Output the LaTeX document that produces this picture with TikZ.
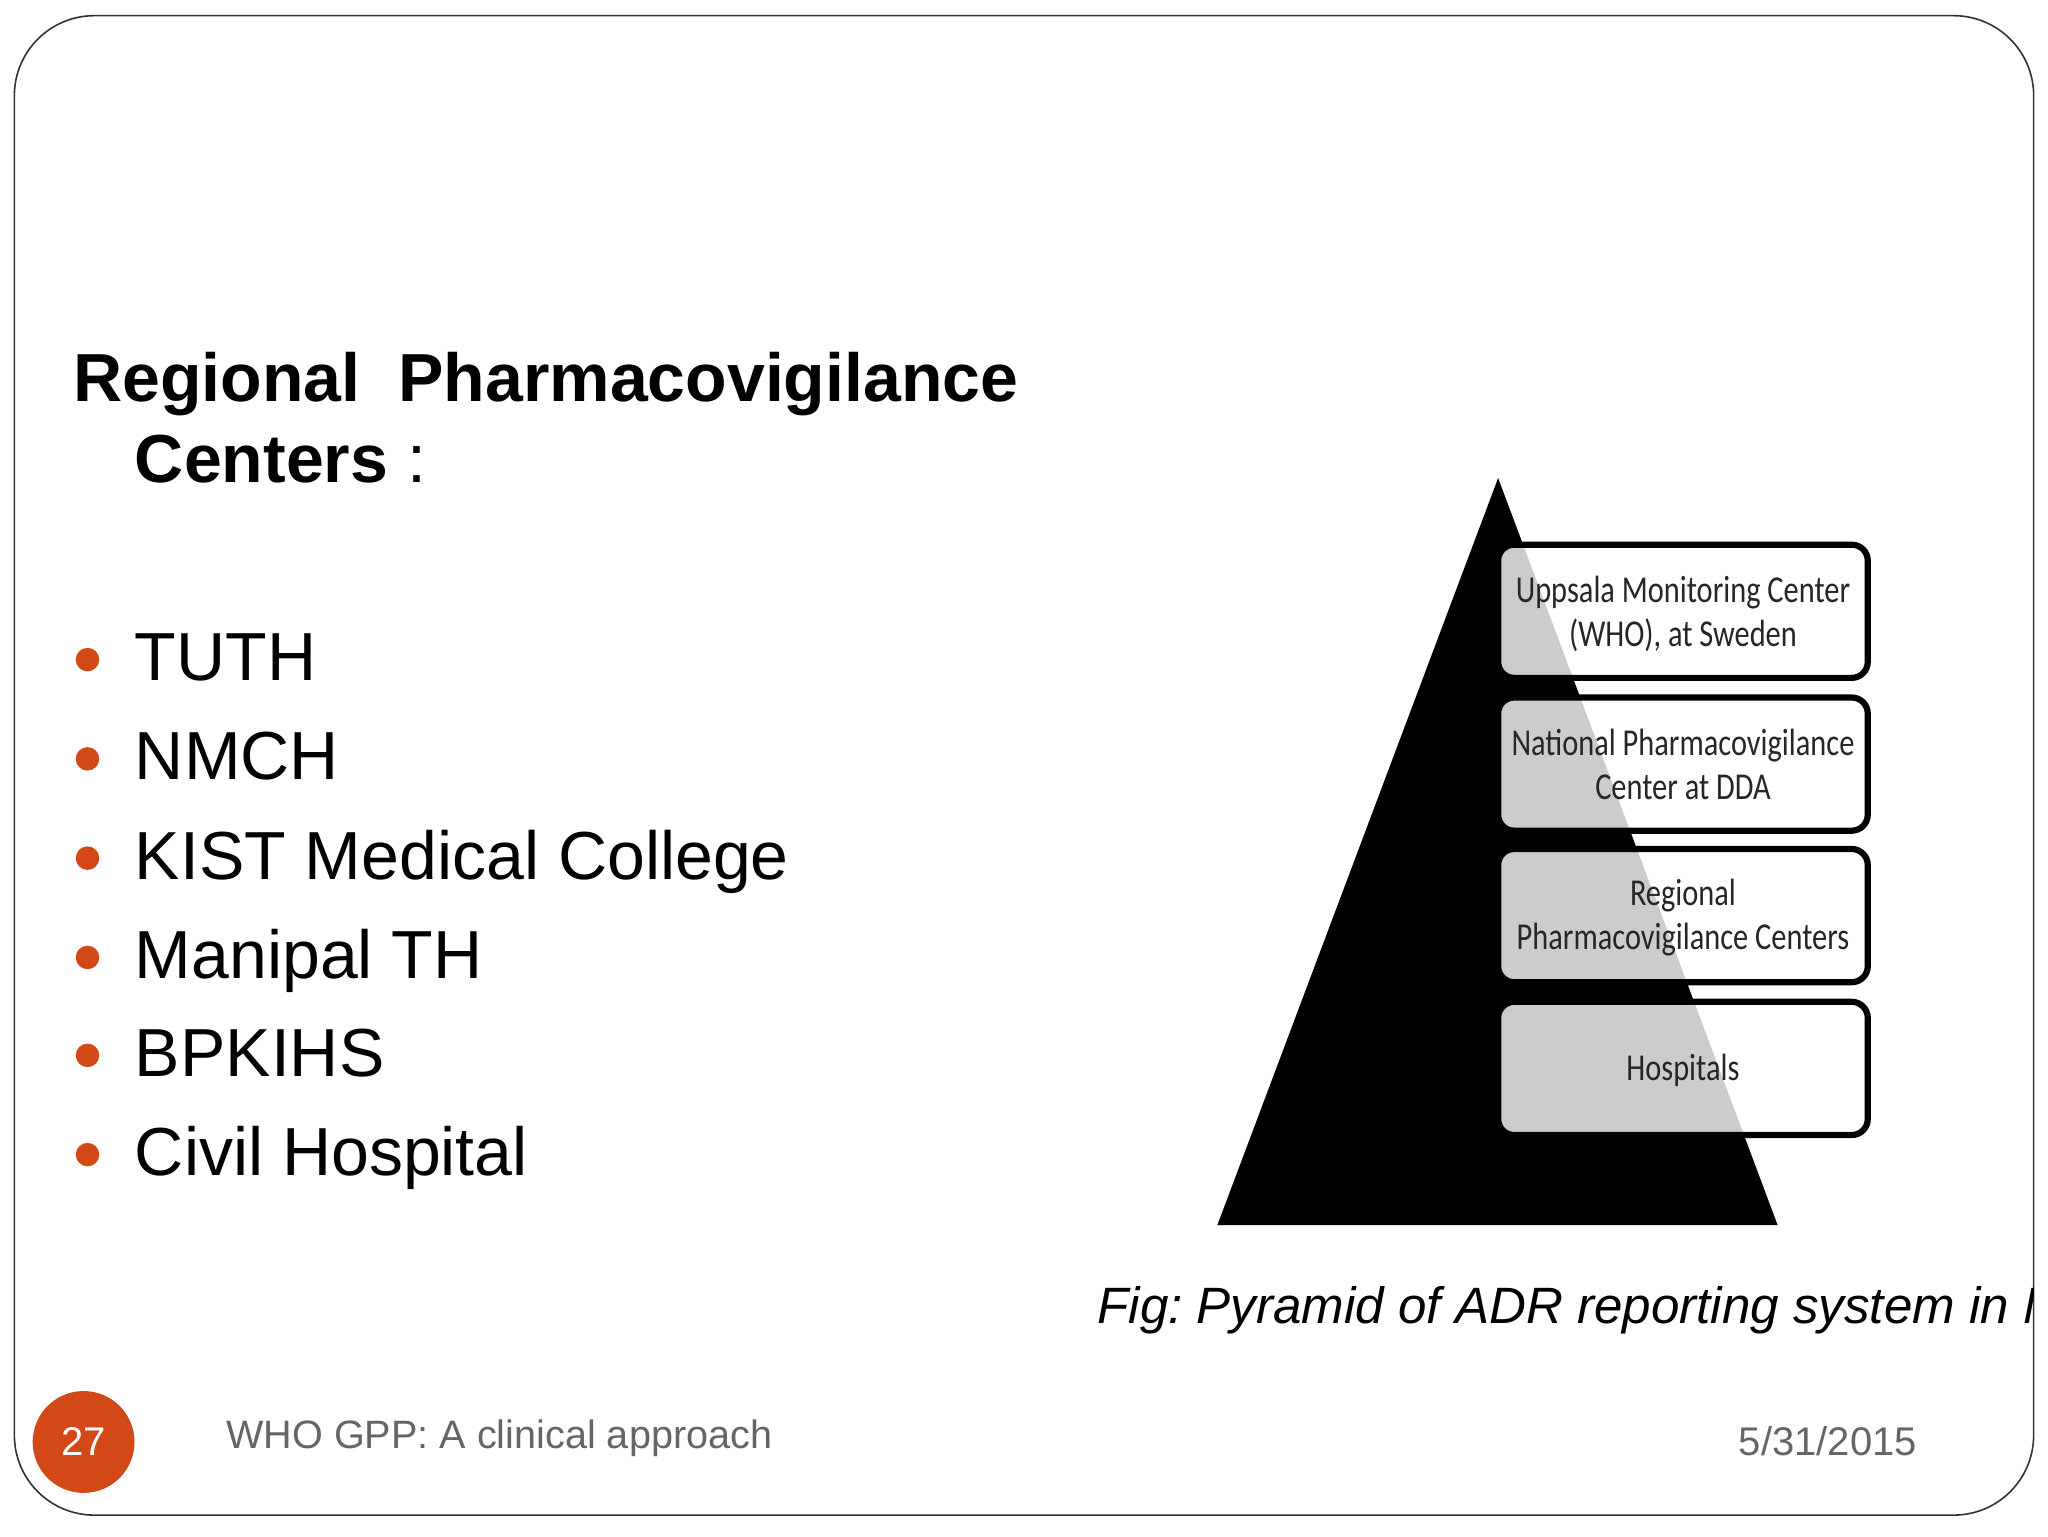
\documentclass[tikz,border=0pt]{standalone}
\usepackage{fontspec}
\setmainfont{Liberation Sans}
\newfontfamily\boxfont[FakeStretch=0.8]{Carlito}
\definecolor{slideorange}{HTML}{D34817}
\definecolor{footgray}{HTML}{696464}
\frenchspacing
\newcommand{\boxlift}{\rule{0pt}{15.4pt}}
\tikzset{
  listitem/.style={anchor=base west, inner sep=0pt, font=\fontsize{34}{34}\selectfont},
  headline/.style={anchor=base west, inner sep=0pt, font=\fontsize{34}{34}\selectfont\bfseries},
  foottext/.style={anchor=base west, inner sep=0pt, text=footgray, font=\fontsize{19.8}{20}\selectfont},
  levelbox/.style={draw=black, line width=3.1pt, rounded corners=8pt, fill=white, fill opacity=0.8, text opacity=1,
    minimum width=184.8pt, minimum height=66.6pt, inner sep=0pt, align=center, text=black!85,
    font=\boxfont\fontsize{19}{22}\selectfont},
}
\begin{document}
\begin{tikzpicture}[x=0.65306pt,y=-0.65306pt]
  \useasboundingbox (0,0) rectangle (1568,1176);
  \draw[black!80, line width=0.8pt, rounded corners=40pt] (11,12) rectangle (1557,1160); % slide frame

  \node[headline] (title1) at (56,307.5) {Regional\ \ Pharmacovigilance};
  \node[headline] (title2) at (103,369.5) {Centers \textmd{:}};

  \fill[slideorange] (67,505) circle[radius=9];
  \node[listitem] (tuth) at (103,521) {TUTH};
  \fill[slideorange] (67,581) circle[radius=9];
  \node[listitem] (nmch) at (103,597) {NMCH};
  \fill[slideorange] (67,657) circle[radius=9];
  \node[listitem] (kist) at (103,673) {KIST Medical College};
  \fill[slideorange] (67,733) circle[radius=9];
  \node[listitem] (manipal) at (103,749) {Manipal TH};
  \fill[slideorange] (67,808) circle[radius=9];
  \node[listitem] (bpkihs) at (103,824) {BPKIHS};
  \fill[slideorange] (67,884) circle[radius=9];
  \node[listitem] (civil) at (103,900) {Civil Hospital};

  \fill[black] (1147,366)--(1361,938)--(932,938)--cycle; % pyramid
  \node[levelbox] (uppsala) at (1288.5,468) {\boxlift Uppsala Monitoring Center\\(WHO), at Sweden};
  \node[levelbox] (national) at (1288.5,585) {National Pharmacovigilance\\Center at DDA};
  \node[levelbox] (regional) at (1288.5,701) {\boxlift Regional\\Pharmacovigilance Centers};
  \node[levelbox] (hospitals) at (1288.5,818) {\boxlift Hospitals};

  \begin{scope}
    \clip (0,0) rectangle (1557,1176);
    \node[anchor=base west, inner sep=0pt, font=\fontsize{25.55}{26}\selectfont\itshape] (caption) at (840,1013) {Fig: Pyramid of ADR reporting system in N};
  \end{scope}

  \fill[slideorange] (64,1104) circle[radius=39];
  \node[anchor=center, inner sep=0pt, text=white, font=\fontsize{20}{20}\selectfont] (pagenum) at (64,1104) {27};
  \node[foottext] (footer) at (173,1109) {WHO GPP: A clinical approach};
  \node[foottext, font=\fontsize{20}{20}\selectfont] (date) at (1331,1114) {5/31/2015};
\end{tikzpicture}
\end{document}
